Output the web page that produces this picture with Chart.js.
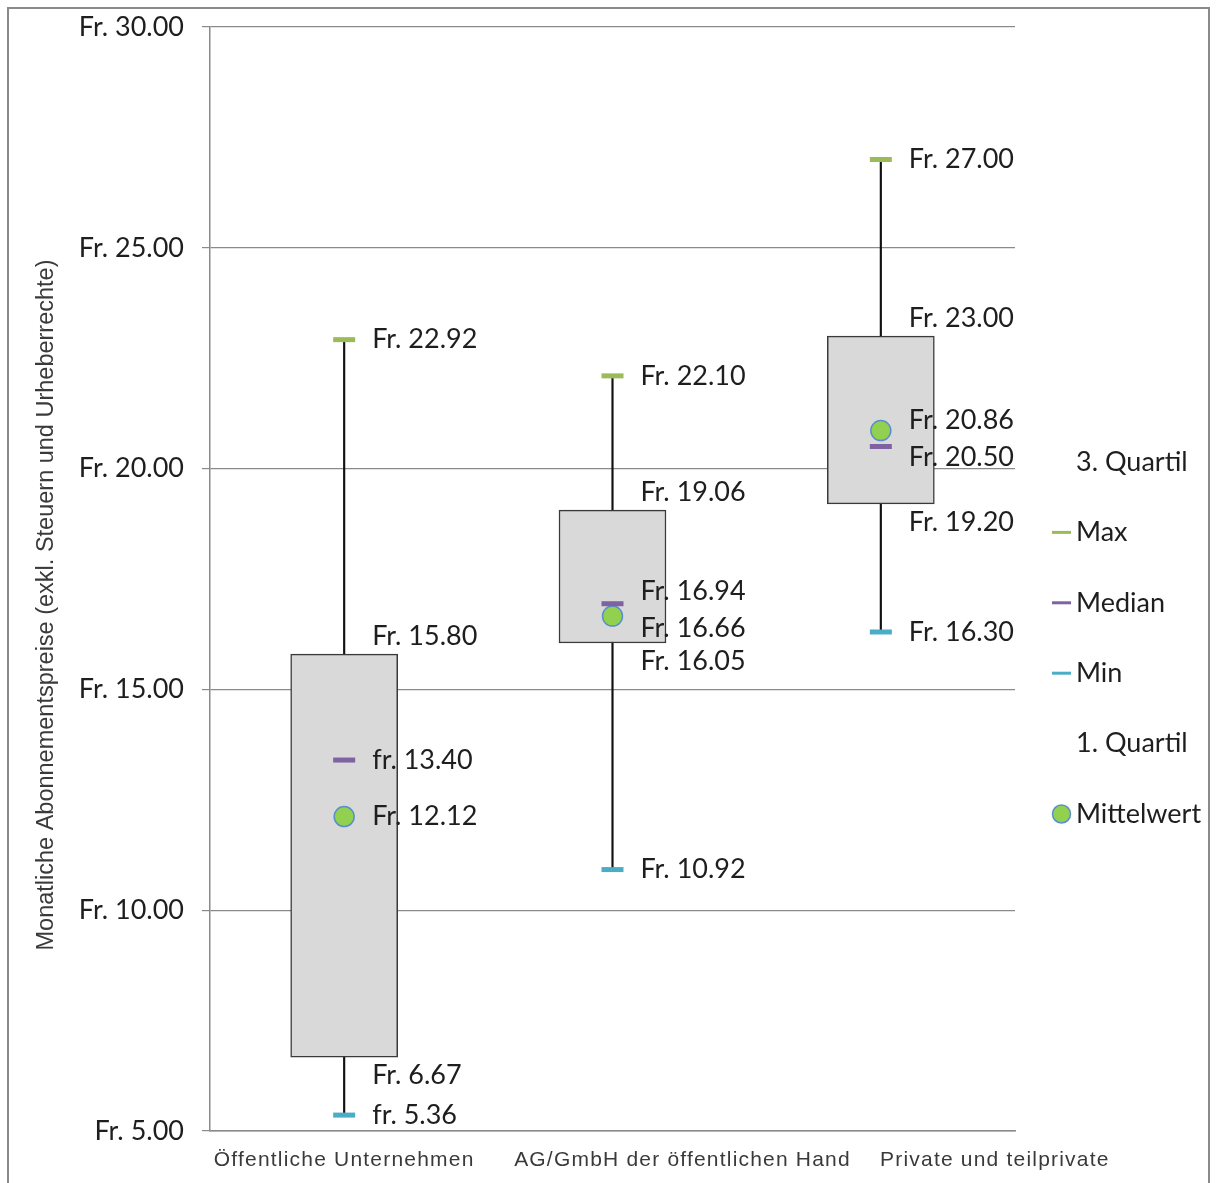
<!DOCTYPE html>
<html lang="de">
<head>
<meta charset="utf-8">
<title>Monatliche Abonnementspreise</title>
<script src="https://cdn.jsdelivr.net/npm/chart.js@4.4.1/dist/chart.umd.min.js"></script>
<style>
  html, body { margin: 0; padding: 0; background: #fff; overflow: hidden; }
  #frame {
    position: absolute; left: 7px; top: 7px; width: 1203px; height: 1300px;
    border: 2px solid #8a8a8a; box-sizing: border-box;
  }
  #priceChart { position: absolute; left: 0; top: 0; }
</style>
</head>
<body>
<div id="frame"></div>
<canvas id="priceChart" width="1217" height="1183"></canvas>
<script>
const categories = ["Öffentliche Unternehmen", "AG/GmbH der öffentlichen Hand", "Private und teilprivate"];
const minValues = [5.36, 10.92, 16.30];
const q1Values = [6.67, 16.05, 19.20];
const medianValues = [13.40, 16.94, 20.50];
const meanValues = [12.12, 16.66, 20.86];
const q3Values = [15.80, 19.06, 23.00];
const maxValues = [22.92, 22.10, 27.00];
// some labels in the original are written lower case
const medianPrefix = ["fr.", "Fr.", "Fr."];
const minPrefix = ["fr.", "Fr.", "Fr."];
const legendLabels = ["3. Quartil", "Max", "Median", "Min", "1. Quartil", "Mittelwert"];
const yTitle = "Monatliche Abonnementspreise (exkl. Steuern und Urheberrechte)";

const labelFont = "27px Lato";
const textColor = "#1e1e1e";
const colors = {
  max: "#9bbb59",
  median: "#7f62a1",
  min: "#4bacc6",
  mean: "#92d050",
  meanBorder: "#5b8fcb",
};
// the original category labels sit off-centre, shifted right
const catLabelShift = [0, 70, 114];

const fmt = (prefix, v) => `${prefix} ${v.toFixed(2)}`;

const markerSet = (label, data, color) => ({
  type: "line",
  label,
  data,
  showLine: false,
  pointStyle: "line",
  pointRadius: 11,
  pointHoverRadius: 11,
  pointBorderWidth: 5,
  pointBorderColor: color,
  borderColor: color,
});

const valueLabels = {
  id: "valueLabels",
  afterDatasetsDraw(chart) {
    const { ctx, scales: { x, y } } = chart;
    ctx.save();
    ctx.font = labelFont;
    ctx.fillStyle = textColor;
    ctx.textAlign = "left";
    ctx.textBaseline = "middle";
    categories.forEach((cat, i) => {
      const lx = x.getPixelForValue(i) + 28;
      ctx.fillText(fmt("Fr.", maxValues[i]), lx, y.getPixelForValue(maxValues[i]));
      ctx.fillText(fmt("Fr.", q3Values[i]), lx, y.getPixelForValue(q3Values[i]) - 18);
      ctx.fillText(fmt("Fr.", q1Values[i]), lx, y.getPixelForValue(q1Values[i]) + 18);
      ctx.fillText(fmt(minPrefix[i], minValues[i]), lx, y.getPixelForValue(minValues[i]));

      let medY = y.getPixelForValue(medianValues[i]);
      let meanY = y.getPixelForValue(meanValues[i]);
      if (Math.abs(medY - meanY) < 37) {
        const mid = (medY + meanY) / 2;
        const s = medY < meanY ? -1 : 1;
        medY = mid + s * 18.5;
        meanY = mid - s * 18.5;
      }
      ctx.fillText(fmt(medianPrefix[i], medianValues[i]), lx, medY);
      ctx.fillText(fmt("Fr.", meanValues[i]), lx, meanY);
    });
    ctx.restore();
  },
};

// axis title and category labels, placed like the original
const axisText = {
  id: "axisText",
  afterDraw(chart) {
    const { ctx, chartArea, scales: { x } } = chart;
    ctx.save();
    ctx.fillStyle = "#3a3a3a";
    ctx.textAlign = "center";
    ctx.textBaseline = "middle";
    ctx.font = "21px 'Liberation Sans'";
    ctx.letterSpacing = "1.2px";
    categories.forEach((cat, i) => {
      ctx.fillText(cat, x.getPixelForValue(i) + catLabelShift[i], chartArea.bottom + 29);
    });
    ctx.letterSpacing = "0px";
    ctx.translate(47, (chartArea.top + chartArea.bottom) / 2 + 26);
    ctx.rotate(-Math.PI / 2);
    ctx.font = "23.5px 'Liberation Sans'";
    ctx.fillText(yTitle, 0, 0);
    ctx.restore();
  },
};

const sideLegend = {
  id: "sideLegend",
  afterDraw(chart) {
    const { ctx, chartArea } = chart;
    const x0 = chartArea.right + 37;
    const markers = {
      "Max": colors.max,
      "Median": colors.median,
      "Min": colors.min,
    };
    ctx.save();
    ctx.font = labelFont;
    ctx.fillStyle = textColor;
    ctx.textAlign = "left";
    ctx.textBaseline = "middle";
    legendLabels.forEach((txt, k) => {
      const ly = 462 + k * 70.4;
      if (markers[txt]) {
        ctx.strokeStyle = markers[txt];
        ctx.lineWidth = 3;
        ctx.beginPath();
        ctx.moveTo(x0, ly);
        ctx.lineTo(x0 + 19, ly);
        ctx.stroke();
      } else if (txt === "Mittelwert") {
        ctx.beginPath();
        ctx.arc(x0 + 9.5, ly, 9, 0, Math.PI * 2);
        ctx.fillStyle = colors.mean;
        ctx.fill();
        ctx.strokeStyle = colors.meanBorder;
        ctx.lineWidth = 1.5;
        ctx.stroke();
        ctx.fillStyle = textColor;
      }
      ctx.fillText(txt, x0 + 24, ly);
    });
    ctx.restore();
  },
};

const priceChart = new Chart(document.getElementById("priceChart"), {
  type: "bar",
  data: {
    labels: categories,
    datasets: [
      markerSet("Max", maxValues, colors.max),
      markerSet("Min", minValues, colors.min),
      markerSet("Median", medianValues, colors.median),
      {
        type: "line",
        label: "Mittelwert",
        data: meanValues,
        showLine: false,
        pointStyle: "circle",
        pointRadius: 10,
        pointHoverRadius: 10,
        pointBackgroundColor: colors.mean,
        pointBorderColor: colors.meanBorder,
        pointBorderWidth: 1.5,
      },
      {
        label: "Box",
        data: q1Values.map((q1, i) => [q1, q3Values[i]]),
        backgroundColor: "#d9d9d9",
        borderColor: "#3a3a3a",
        borderWidth: 1.5,
        borderSkipped: false,
        barThickness: 107,
        grouped: false,
      },
      {
        label: "Whisker",
        data: minValues.map((mn, i) => [mn, maxValues[i]]),
        backgroundColor: "#111",
        borderWidth: 0,
        barThickness: 1.5,
        grouped: false,
      },
    ],
  },
  options: {
    responsive: false,
    animation: false,
    layout: { padding: { left: 10, right: 202, top: 27, bottom: 0 } },
    plugins: {
      legend: { display: false },
      tooltip: { enabled: false },
    },
    scales: {
      x: {
        grid: { display: false },
        border: { display: true, color: "#8a8a8a", width: 1.5 },
        ticks: { display: false },
        afterFit(scale) { scale.height = 52; },
      },
      y: {
        min: 5,
        max: 30,
        ticks: {
          stepSize: 5,
          color: textColor,
          font: { family: "Lato", size: 27 },
          padding: 18,
          callback: (v) => fmt("Fr.", v),
        },
        grid: { color: "#8a8a8a", lineWidth: 1.2, tickLength: 8, drawTicks: true },
        border: { display: true, color: "#8a8a8a", width: 1.5 },
        afterFit(scale) {
          scale.width = 200;
          scale.paddingTop = 0;
          scale.paddingBottom = 0;
        },
      },
    },
  },
  plugins: [valueLabels, axisText, sideLegend],
});
</script>
</body>
</html>
